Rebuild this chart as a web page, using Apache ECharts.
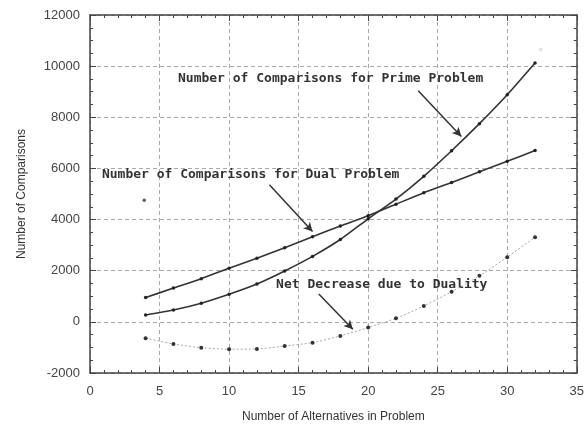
<!DOCTYPE html>
<html>
<head>
<meta charset="utf-8">
<script src="https://cdn.jsdelivr.net/npm/echarts@6/dist/echarts.min.js"></script>
<style>html,body{margin:0;padding:0;background:#fff}#c{width:587px;height:436px}</style>
</head>
<body>
<div id="c"></div>
<script>
const alternatives = [4, 6, 8, 10, 12, 14, 16, 18, 20, 22, 24, 26, 28, 30, 32];
const primeProblem = [270, 465, 730, 1080, 1480, 1990, 2560, 3220, 4030, 4800, 5690, 6690, 7750, 8880, 10120];
const dualProblem = [950, 1320, 1690, 2100, 2490, 2900, 3330, 3750, 4150, 4600, 5050, 5450, 5870, 6280, 6700];
const netDecrease = [-640, -865, -1010, -1070, -1060, -945, -815, -550, -225, 140, 620, 1180, 1800, 2530, 3310];
const strayPoints = [[3.9, 4760]];
const faintPoints = [[32.4, 10650]];
const annotationTexts = ['Number of Comparisons for Prime Problem', 'Number of Comparisons for Dual Problem', 'Net Decrease due to Duality'];
const annotationPos = [[17.3, 9500], [11.55, 5750], [20.98, 1440]];
const arrows = [[[23.6, 9040], [26.7, 7250]], [[12.9, 5360], [16.0, 3530]], [[16.45, 1090], [18.9, -290]]];

const pair = (xs, ys) => xs.map((x, i) => [x, ys[i]]);
const chart = echarts.init(document.getElementById('c'), null, {renderer: 'canvas'});
const axisCol = '#444';
const tickFont = {color: '#444', fontFamily: 'Liberation Sans, Arial, sans-serif', fontSize: 13, formatter: v => String(v)};
const baseX = {type: 'value', min: 0, max: 35, interval: 5,
  axisLine: {show: true, onZero: false, lineStyle: {color: axisCol, width: 1.5}},
  axisTick: {show: true, inside: true, length: 6, lineStyle: {color: axisCol}},
  minorTick: {show: true, splitNumber: 5, length: 3, lineStyle: {color: axisCol}},
  splitLine: {show: false}};
const baseY = {type: 'value', min: -2000, max: 12000, interval: 2000,
  axisLine: {show: true, onZero: false, lineStyle: {color: axisCol, width: 1.5}},
  axisTick: {show: true, inside: true, length: 6, lineStyle: {color: axisCol}},
  minorTick: {show: true, splitNumber: 4, length: 3, lineStyle: {color: axisCol}},
  splitLine: {show: false}};

const annFont = {fontFamily: 'DejaVu Sans Mono, Liberation Mono, monospace', fontSize: 13, fontWeight: 'bold', color: '#333'};

chart.setOption({
  animation: false,
  backgroundColor: '#fff',
  grid: {left: 90, right: 9, top: 15, bottom: 63},
  xAxis: [
    Object.assign({}, baseX, {position: 'bottom',
      name: 'Number of Alternatives in Problem', nameLocation: 'middle', nameGap: 38,
      nameTextStyle: {color: '#333', fontFamily: 'Liberation Sans, Arial, sans-serif', fontSize: 12},
      axisLabel: Object.assign({margin: 12}, tickFont),
      splitLine: {show: true, lineStyle: {color: '#aaa', type: [4, 3], width: 1}}}),
    Object.assign({}, baseX, {position: 'top', axisLabel: {show: false}})
  ],
  yAxis: [
    Object.assign({}, baseY, {position: 'left',
      name: 'Number of Comparisons', nameLocation: 'middle', nameGap: 62,
      nameTextStyle: {color: '#333', fontFamily: 'Liberation Sans, Arial, sans-serif', fontSize: 12},
      axisLabel: Object.assign({margin: 10}, tickFont),
      splitLine: {show: true, lineStyle: {color: '#aaa', type: [4, 3], width: 1}}}),
    Object.assign({}, baseY, {position: 'right', axisLabel: {show: false}})
  ],
  series: [
    {name: 'Prime', type: 'line', data: pair(alternatives, primeProblem), smooth: 0.2,
      symbol: 'circle', symbolSize: 3.5, itemStyle: {color: '#222'},
      lineStyle: {color: '#333', width: 1.6},
      markLine: {silent: true, symbol: ['none', 'arrow'], symbolSize: [7, 9],
        lineStyle: {color: '#333', width: 1.5, type: 'solid'}, label: {show: false},
        data: arrows.map(a => [{coord: a[0]}, {coord: a[1]}])},
      markPoint: {silent: true, symbol: 'rect', symbolSize: 1, itemStyle: {color: 'rgba(0,0,0,0)'},
        label: Object.assign({show: true, position: 'inside', formatter: p => p.name}, annFont),
        data: annotationTexts.map((t, i) => ({name: t, coord: annotationPos[i]}))}},
    {name: 'Dual', type: 'line', data: pair(alternatives, dualProblem), smooth: 0.2,
      symbol: 'circle', symbolSize: 3.5, itemStyle: {color: '#222'},
      lineStyle: {color: '#333', width: 1.6}},
    {name: 'Net', type: 'line', data: pair(alternatives, netDecrease), smooth: 0.2,
      symbol: 'circle', symbolSize: 4, itemStyle: {color: '#333'},
      lineStyle: {color: '#aaa', width: 1, type: [2, 2]}},
    {name: 'Stray', type: 'scatter', data: strayPoints, symbolSize: 3.5, itemStyle: {color: '#333'}},
    {name: 'Faint', type: 'scatter', data: faintPoints, symbolSize: 4, itemStyle: {color: '#ddd'}}
  ]
});
</script>
</body>
</html>
